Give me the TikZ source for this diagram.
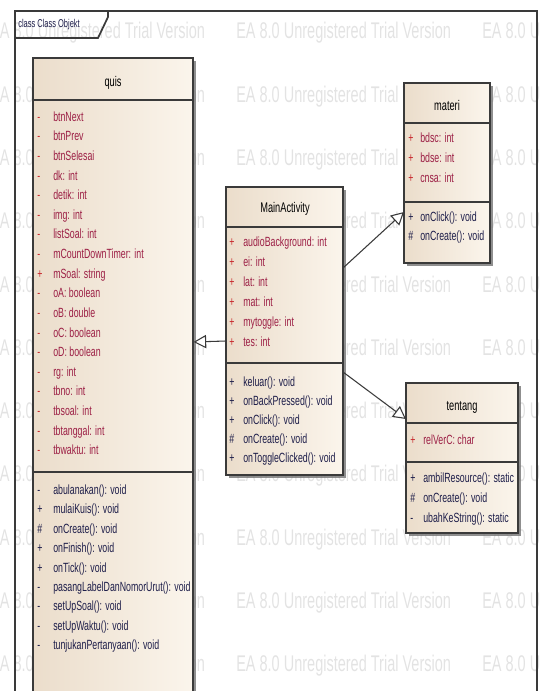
\documentclass[tikz,border=0pt]{standalone}
\usepackage{fontspec}
\setmainfont{Liberation Sans}
\newfontfamily\umlfont[FakeStretch=0.66]{Liberation Sans}
\newfontfamily\wmfont[FakeStretch=0.64]{Liberation Sans}
\usetikzlibrary{arrows.meta,shadows,fit}
\definecolor{attrcol}{HTML}{9C1F45}
\definecolor{opcol}{HTML}{1E1E4A}
\definecolor{visred}{HTML}{C8282C}
\definecolor{boxL}{HTML}{EBDDCB}
\definecolor{boxR}{HTML}{FBF5EC}
\definecolor{edge}{HTML}{3A3A3A}
\definecolor{wmcol}{HTML}{E3E3E3}
\begin{document}
\begin{tikzpicture}[x=0.75pt,y=-0.75pt,
  classbox/.style={draw=edge, line width=1.1pt, left color=boxL, right color=boxR, inner sep=0pt,
    drop shadow={shadow xshift=2.2pt, shadow yshift=-2.2pt, fill=black!55, opacity=0.8}},
  sepline/.style={draw=edge, line width=1.1pt},
  umltext/.style={font=\umlfont\fontsize{10}{11}\selectfont, anchor=base west, inner sep=0pt},
  attr/.style={umltext, text=attrcol},
  oper/.style={umltext, text=opcol},
  avis/.style={umltext, text=visred},
  ovis/.style={umltext, text=opcol},
  title/.style={font=\umlfont\fontsize{10.5}{12}\selectfont, text=black, inner sep=0pt},
  wm/.style={font=\wmfont\fontsize{17}{19}\selectfont, text=wmcol, anchor=west, inner sep=0pt},
  gen/.style={draw=edge, line width=0.8pt, -{Triangle[open, length=9.5pt, width=10pt, fill=white]}},
  frameline/.style={draw=edge, line width=1.3pt},
  framelabel/.style={font=\umlfont\fontsize{8.5}{9}\selectfont, text=opcol, anchor=west, inner sep=0pt}
]
\useasboundingbox (0,0) rectangle (541,691);
\begin{scope}
\clip (0,0) rectangle (541,691);

% watermark
\foreach \r in {0,...,10} {
  \foreach \c/\xx in {1/-10, 2/236, 3/482} {
    \node[wm] (wm\r-\c) at (\xx, {33+63.3*\r}) {EA 8.0 Unregistered Trial Version};
  }
}

% frame
\draw[frameline] (15,720) -- (15,11) -- (537,11) -- (537,720);
\draw[frameline] (15,38) -- (98,38) -- (108,17) -- (108,11);
\node[framelabel] (flabel) at (18,25) {class Class Objekt};

% class quis
\node[classbox, fit={(33,58) (193,720)}] (quis) {};
\draw[sepline] (33,100) -- (193,100);
\draw[sepline] (33,472) -- (193,472);
\node[title] (quisT) at (113,83) {quis};
\foreach \v/\t [count=\i] in {-/btnNext, -/btnPrev, -/btnSelesai, -/dk: int, -/detik: int, -/img: int,
  -/listSoal: int, -/mCountDownTimer: int, +/mSoal: string, -/oA: boolean, -/oB: double,
  -/oC: boolean, -/oD: boolean, -/rg: int, -/tbno: int, -/tbsoal: int, -/tbtanggal: int, -/tbwaktu: int} {
  \node[avis] (qav\i) at (37, {101.8+19.6*\i}) {\v};
  \node[attr] (qa\i) at (53, {101.8+19.6*\i}) {\t};
}
\foreach \v/\t [count=\i] in {-/abulanakan(): void, +/mulaiKuis(): void, \#/onCreate(): void,
  +/onFinish(): void, +/onTick(): void, -/pasangLabelDanNomorUrut(): void, -/setUpSoal(): void,
  -/setUpWaktu(): void, -/tunjukanPertanyaan(): void} {
  \node[ovis] (qov\i) at (37, {475+19.4*\i}) {\v};
  \node[oper] (qo\i) at (53, {475+19.4*\i}) {\t};
}

% class MainActivity
\node[classbox, fit={(226,187) (343,475)}] (ma) {};
\draw[sepline] (226,227) -- (343,227);
\draw[sepline] (226,363) -- (343,363);
\node[title] (maT) at (285,209) {MainActivity};
\foreach \t [count=\i] in {audioBackground: int, ei: int, lat: int, mat: int, mytoggle: int, tes: int} {
  \node[avis] (mav\i) at (229, {226.5+20*\i}) {+};
  \node[attr] (maa\i) at (243, {226.5+20*\i}) {\t};
}
\foreach \v/\t [count=\i] in {+/keluar(): void, +/onBackPressed(): void, +/onClick(): void,
  \#/onCreate(): void, +/onToggleClicked(): void} {
  \node[ovis] (mov\i) at (229, {367.5+19*\i}) {\v};
  \node[oper] (mo\i) at (243, {367.5+19*\i}) {\t};
}

% class materi
\node[classbox, fit={(404,83) (490,263)}] (mat) {};
\draw[sepline] (404,123) -- (490,123);
\draw[sepline] (404,202) -- (490,202);
\node[title] (matT) at (447,105) {materi};
\foreach \t [count=\i] in {bdsc: int, bdse: int, cnsa: int} {
  \node[avis] (mtv\i) at (408, {122.5+20*\i}) {+};
  \node[attr] (mta\i) at (420, {122.5+20*\i}) {\t};
}
\foreach \v/\t [count=\i] in {+/onClick(): void, \#/onCreate(): void} {
  \node[ovis] (mtov\i) at (408, {202.5+19*\i}) {\v};
  \node[oper] (mto\i) at (420, {202.5+19*\i}) {\t};
}

% class tentang
\node[classbox, fit={(406,383) (518,533)}] (ten) {};
\draw[sepline] (406,423) -- (518,423);
\draw[sepline] (406,462) -- (518,462);
\node[title] (tenT) at (462,407) {tentang};
\node[avis] (tav1) at (410,444.5) {+};
\node[attr] (ta1) at (423,444.5) {relVerC: char};
\foreach \v/\t [count=\i] in {+/ambilResource(): static, \#/onCreate(): void, -/ubahKeString(): static} {
  \node[ovis] (tov\i) at (410, {462.5+20*\i}) {\v};
  \node[oper] (to\i) at (423, {462.5+20*\i}) {\t};
}

% generalizations
\coordinate (maG1) at (226,341);
\coordinate (quisG) at (193.5,342);
\coordinate (maG2) at (343,268);
\coordinate (matG) at (404,212);
\coordinate (maG3) at (343,372);
\coordinate (tenG) at (406,419);
\draw[gen] (maG1) -- (quisG);
\draw[gen] (maG2) -- (matG);
\draw[gen] (maG3) -- (tenG);
\end{scope}
\end{tikzpicture}
\end{document}
